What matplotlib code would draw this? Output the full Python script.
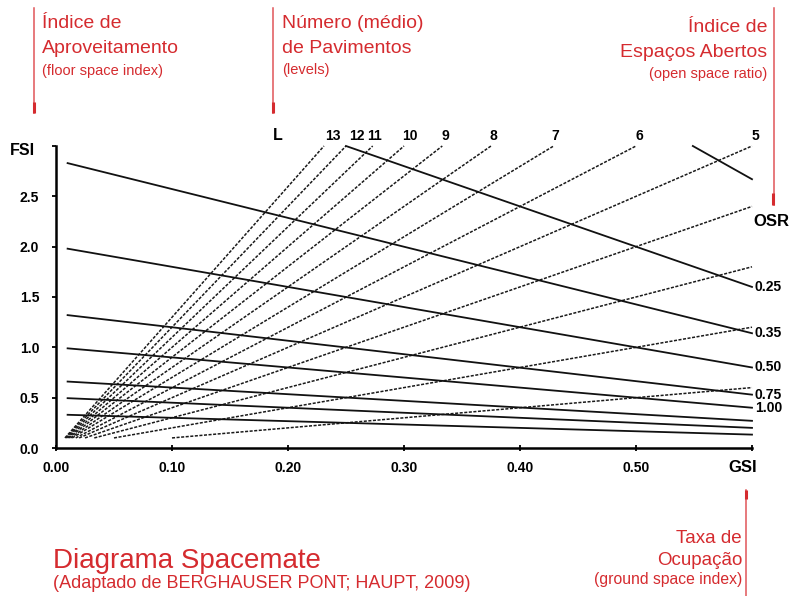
import matplotlib
matplotlib.use("Agg")
import matplotlib.pyplot as plt

# ------------------------------------------------------------
# DATA
# ------------------------------------------------------------

# dashed lines: number of levels L  (FSI = L * GSI)
LEVELS = [1, 2, 3, 4, 5, 6, 7, 8, 9, 10, 11, 12, 13]
LEVEL_GSI_START = [0.100, 0.050, 0.033, 0.025, 0.020, 0.017, 0.014,
                   0.0125, 0.011, 0.010, 0.009, 0.0083, 0.0077]
LEVEL_FSI_START = [0.10] * 13
LEVEL_GSI_END = [0.60, 0.60, 0.60, 0.60, 0.60, 0.50, 0.429,
                 0.375, 0.333, 0.300, 0.273, 0.250, 0.231]
LEVEL_FSI_END = [0.60, 1.20, 1.80, 2.40, 3.00, 3.00, 3.00,
                 3.00, 3.00, 3.00, 3.00, 3.00, 3.00]

# labels above the dashed lines
LEVEL_LABELS = ["5", "6", "7", "8", "9", "10", "11", "12", "13"]
LEVEL_LABEL_GSI = [0.603, 0.503, 0.430, 0.377, 0.336, 0.305, 0.275, 0.259, 0.239]

# solid lines: open space ratio  (FSI = (1 - GSI) / OSR)
OSR_VALUES = [0.15, 0.25, 0.35, 0.50, 0.75, 1.00, 1.50, 2.00, 3.00]
OSR_GSI_START = [0.549, 0.25, 0.01, 0.01, 0.01, 0.01, 0.01, 0.01, 0.01]
OSR_FSI_START = [3.00, 3.00, 2.83, 1.98, 1.32, 0.99, 0.66, 0.495, 0.33]
OSR_GSI_END = [0.60] * 9
OSR_FSI_END = [2.67, 1.60, 1.14, 0.80, 0.53, 0.40, 0.27, 0.20, 0.133]
OSR_LABELS = ["", "0.25", "0.35", "0.50", "0.75", "1.00", "", "", ""]

X_TICKS = [0.0, 0.1, 0.2, 0.3, 0.4, 0.5, 0.6]
X_TICK_LABELS = ["0.00", "0.10", "0.20", "0.30", "0.40", "0.50", ""]
Y_TICKS = [0.0, 0.5, 1.0, 1.5, 2.0, 2.5, 3.0]
Y_TICK_LABELS = ["0.0", "0.5", "1.0", "1.5", "2.0", "2.5", ""]

RED = "#d52b2f"
RED_LIGHT = "#e05558"
FONT = ["Liberation Sans", "DejaVu Sans"]

W, H = 792, 596


def main() -> None:
    plt.rcParams["font.family"] = FONT
    fig = plt.figure(figsize=(W / 100, H / 100), dpi=100)
    fig.patch.set_facecolor("white")

    # main diagram axes, placed in pixels
    x0, x1, y0, y1 = 56, 752, 448, 146
    ax = fig.add_axes([x0 / W, 1 - y0 / H, (x1 - x0) / W, (y0 - y1) / H])
    ax.set_xlim(0, 0.6)
    ax.set_ylim(0, 3.0)

    for gs, fs, ge, fe in zip(LEVEL_GSI_START, LEVEL_FSI_START,
                              LEVEL_GSI_END, LEVEL_FSI_END):
        ax.plot([gs, ge], [fs, fe], color="#1a1a1a", lw=1.1,
                linestyle=(0, (2.0, 1.0)), clip_on=False)

    for gs, fs, ge, fe, lab in zip(OSR_GSI_START, OSR_FSI_START,
                                   OSR_GSI_END, OSR_FSI_END, OSR_LABELS):
        ax.plot([gs, ge], [fs, fe], color="#111111", lw=1.3, clip_on=False)
        if lab:
            ax.annotate(lab, (ge, fe), xytext=(2, 0), textcoords="offset points",
                        ha="left", va="center", fontsize=10, fontweight="bold")

    for lab, gx in zip(LEVEL_LABELS, LEVEL_LABEL_GSI):
        ax.annotate(lab, (gx, 3.0), xytext=(0, 7.5), textcoords="offset points",
                    ha="center", va="center", fontsize=10, fontweight="bold",
                    annotation_clip=False)
    ax.annotate("L", (0.191, 3.0), xytext=(0, 7.5), textcoords="offset points",
                ha="center", va="center", fontsize=11.5, fontweight="bold",
                annotation_clip=False)

    ax.annotate("FSI", (0.0, 3.0), xytext=(-24, -3), textcoords="offset points",
                ha="center", va="center", fontsize=11.5, fontweight="bold",
                annotation_clip=False)
    ax.annotate("GSI", (0.6, 0.0), xytext=(-7, -14), textcoords="offset points",
                ha="center", va="center", fontsize=12, fontweight="bold",
                annotation_clip=False)
    ax.annotate("OSR", (0.6, 2.25), xytext=(1, 0), textcoords="offset points",
                ha="left", va="center", fontsize=12, fontweight="bold",
                annotation_clip=False)

    ax.set_xticks(X_TICKS)
    ax.set_xticklabels(X_TICK_LABELS, fontsize=10, fontweight="bold")
    ax.set_yticks(Y_TICKS)
    ax.set_yticklabels(Y_TICK_LABELS, fontsize=10, fontweight="bold")
    ax.tick_params(axis="x", direction="inout", length=4, width=1.3, pad=7)
    ax.tick_params(axis="y", direction="out", length=3, width=1.3, pad=9)
    for side in ("top", "right"):
        ax.spines[side].set_visible(False)
    for side in ("left", "bottom"):
        ax.spines[side].set_linewidth(1.8)

    # overlay in pixel coordinates for the red annotations
    ov = fig.add_axes([0, 0, 1, 1], zorder=5)
    ov.set_xlim(0, W)
    ov.set_ylim(H, 0)
    ov.axis("off")

    def marker_line(x, ya, yb, tab_top, tab_bot, dx=0.0):
        ov.plot([x, x], [ya, yb], color=RED_LIGHT, lw=1.1)
        ov.plot([x + dx, x + dx], [tab_top, tab_bot], color=RED, lw=2.2,
                solid_capstyle="butt")

    marker_line(34, 8, 113, 102, 113)
    marker_line(273, 8, 113, 102, 113)
    marker_line(774, 8, 205, 193, 205, dx=-1.5)
    marker_line(746, 490, 596, 490, 499)

    def red(x, y, s, size, ha="left"):
        ov.text(x, y, s, color=RED, fontsize=size, ha=ha, va="baseline")

    red(42, 28, "Índice de", 14)
    red(42, 53, "Aproveitamento", 14)
    red(42, 75, "(floor space index)", 10.5)

    red(282, 28, "Número (médio)", 14)
    red(282, 53, "de Pavimentos", 14)
    red(282, 74, "(levels)", 10.5)

    red(767, 32, "Índice de", 14, ha="right")
    red(767, 57, "Espaços Abertos", 14, ha="right")
    red(767, 78, "(open space ratio)", 10.5, ha="right")

    red(742, 543, "Taxa de", 13.5, ha="right")
    red(742, 565, "Ocupação", 13.5, ha="right")
    red(742, 584, "(ground space index)", 11.3, ha="right")

    red(53, 568, "Diagrama Spacemate", 20)
    red(53, 588, "(Adaptado de BERGHAUSER PONT; HAUPT, 2009)", 13)

    fig.savefig("out.png", dpi=100)


if __name__ == "__main__":
    main()
